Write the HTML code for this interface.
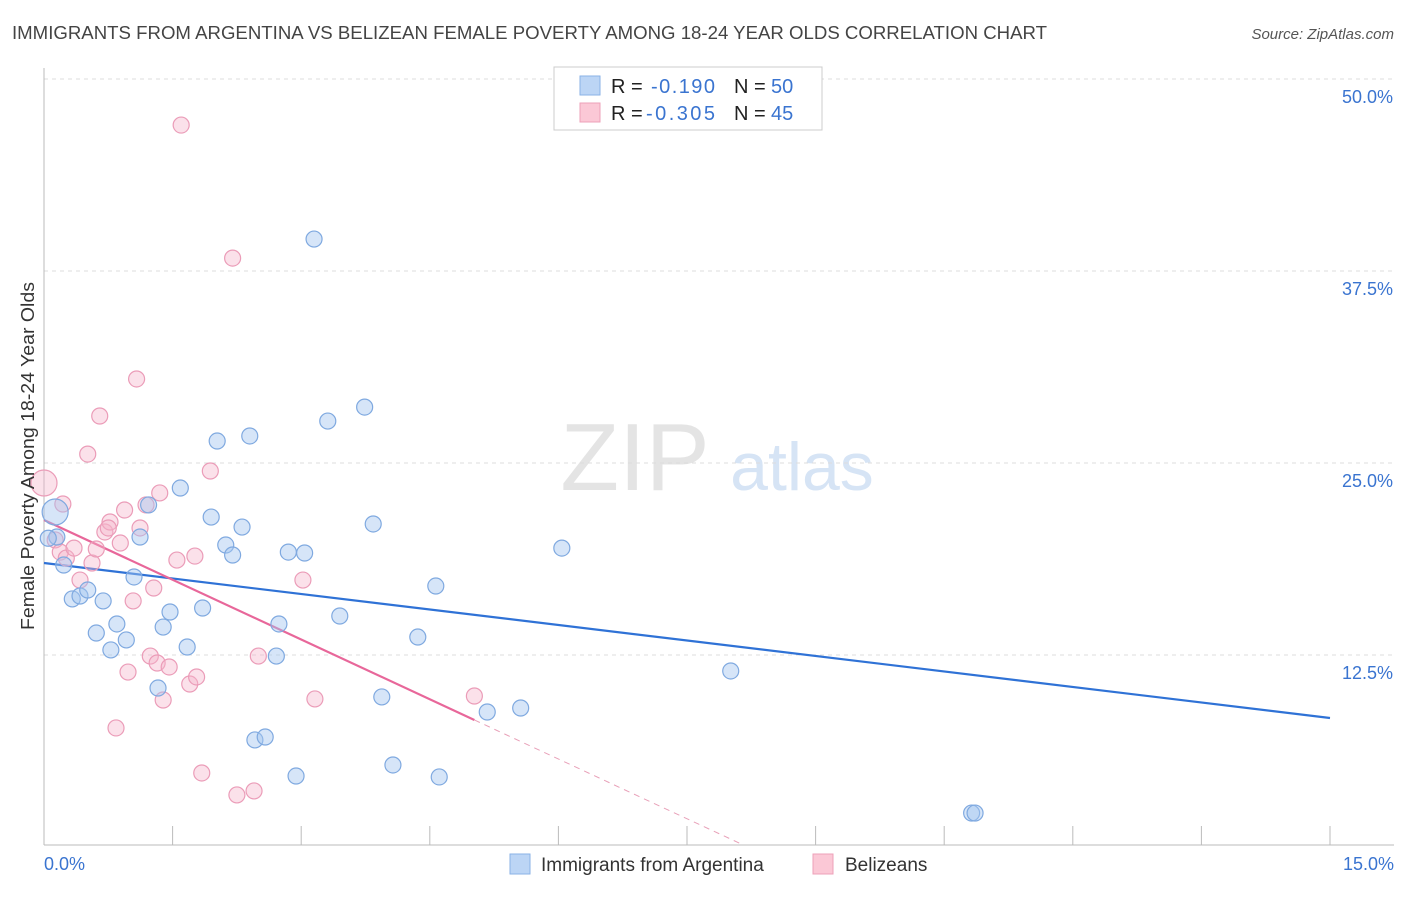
<!DOCTYPE html>
<html><head><meta charset="utf-8">
<style>
body{margin:0;background:#fff;font-family:"Liberation Sans",sans-serif;}
svg text{font-family:"Liberation Sans",sans-serif;}
</style></head>
<body>
<svg id="chart" width="1406" height="892" viewBox="0 0 1406 892" xmlns="http://www.w3.org/2000/svg">
<text x="12" y="39" font-size="18" fill="#444" textLength="1035" lengthAdjust="spacingAndGlyphs">IMMIGRANTS FROM ARGENTINA VS BELIZEAN FEMALE POVERTY AMONG 18-24 YEAR OLDS CORRELATION CHART</text>
<text x="1394" y="39" font-size="15" fill="#555" text-anchor="end" font-style="italic">Source: ZipAtlas.com</text>
<g>
<text x="635" y="490" font-size="96" fill="#e4e4e4" text-anchor="middle" font-family="Liberation Serif, serif">ZIP</text>
<text x="802" y="490" font-size="68" fill="#d6e4f5" text-anchor="middle">atlas</text>
</g>
<g id="grid"></g>
<g id="axes"></g>
<g id="trend"></g>
<g id="pts"></g>
<text transform="translate(34,456) rotate(-90)" font-size="18" fill="#333" text-anchor="middle" textLength="348" lengthAdjust="spacingAndGlyphs">Female Poverty Among 18-24 Year Olds</text>
<g>
<rect x="554" y="67" width="268" height="63" fill="#fff" stroke="#ccc"/>
<rect x="580" y="76" width="20" height="19" fill="#bcd5f5" stroke="#8ab2e6"/>
<rect x="580" y="103" width="20" height="19" fill="#fbc8d6" stroke="#eea0b8"/>
<text x="611" y="93" font-size="20" fill="#222">R =</text><text x="651" y="93" font-size="20" fill="#3a74d0" textLength="64">-0.190</text>
<text x="734" y="93" font-size="20" fill="#222">N =</text><text x="771" y="93" font-size="20" fill="#3a74d0">50</text>
<text x="611" y="120" font-size="20" fill="#222">R =</text><text x="646" y="120" font-size="20" fill="#3a74d0" textLength="69">-0.305</text>
<text x="734" y="120" font-size="20" fill="#222">N =</text><text x="771" y="120" font-size="20" fill="#3a74d0">45</text>
</g>
<g>
<rect x="510" y="854" width="20" height="20" fill="#bcd5f5" stroke="#8ab2e6"/>
<text x="541" y="871" font-size="19" fill="#333">Immigrants from Argentina</text>
<rect x="813" y="854" width="20" height="20" fill="#fbc8d6" stroke="#eea0b8"/>
<text x="845" y="871" font-size="19" fill="#333">Belizeans</text>
</g>
</svg>
<script>
const xTicks=[0,1.5,3,4.5,6,7.5,9,10.5,12,13.5,15];
const yTicks=[12.5,25,37.5,50];
const yTickLabels=["12.5%","25.0%","37.5%","50.0%"];
const blueX=[0.13,0.15,0.23,0.33,0.42,0.51,0.61,0.69,0.78,0.85,0.96,1.05,1.12,1.22,1.33,1.39,1.47,1.59,1.67,1.85,1.95,2.02,2.12,2.20,2.31,2.40,2.46,2.58,2.71,2.74,2.85,2.94,3.04,3.15,3.31,3.45,3.74,3.84,3.94,4.07,4.36,4.57,4.61,5.17,5.56,6.04,8.01,10.82,10.86,0.05];
const blueY=[21.81,20.18,18.36,16.15,16.34,16.73,13.93,16.02,12.83,14.52,13.48,17.58,20.18,22.27,10.35,14.32,15.30,23.37,13.02,15.56,21.48,26.43,19.66,19.01,20.83,26.76,6.97,7.16,12.43,14.52,19.20,4.62,19.14,39.58,27.73,15.04,28.64,21.03,9.77,5.34,13.67,16.99,4.56,8.79,9.05,19.46,11.46,2.21,2.21,20.1];
const pinkX=[0,0.13,0.19,0.26,0.35,0.42,0.51,0.56,0.61,0.65,0.71,0.77,0.84,0.89,0.94,0.98,1.04,1.08,1.12,1.19,1.24,1.28,1.32,1.35,1.39,1.46,1.55,1.60,1.70,1.76,1.78,1.84,1.94,2.20,2.25,2.45,2.50,3.02,3.16,5.02,0.75,0.22];
const pinkY=[23.70,19.99,19.20,18.81,19.46,17.38,25.58,18.49,19.40,28.06,20.51,21.16,7.75,19.79,21.94,11.39,16.02,30.47,20.77,22.27,12.43,16.86,11.98,23.05,9.57,11.72,18.68,47.0,10.61,18.94,11.07,4.82,24.48,38.34,3.39,3.65,12.43,17.38,9.64,9.83,20.77,22.33];
const blueR=[13,8,8,8,8,8,8,8,8,8,8,8,8,8,8,8,8,8,8,8,8,8,8,8,8,8,8,8,8,8,8,8,8,8,8,8,8,8,8,8,8,8,8,8,8,8,8,8,8,8];
const blueTrend=[18.49,8.40];
const pinkTrend=[21.29,8.27,0.23];
const pinkTrendX=[0,5.02,8.12];
const NS="http://www.w3.org/2000/svg";
const X=v=>44+v/15*1286;
const Y=v=>847-v/12.5*192;
function mk(tag,at,parent){const e=document.createElementNS(NS,tag);for(const k in at)e.setAttribute(k,at[k]);parent.appendChild(e);return e;}
const grid=document.getElementById('grid'),axes=document.getElementById('axes'),trend=document.getElementById('trend'),pts=document.getElementById('pts');
yTicks.forEach((t,i)=>{
 const l=mk('line',{x1:44,x2:1394,y1:Y(t),y2:Y(t),stroke:'#ddd','stroke-dasharray':'4,4'},grid);
 
 
 const tx=mk('text',{x:1393,y:Y(t)+24,'font-size':18,fill:'#3a74d0','text-anchor':'end'},axes);
 tx.textContent=yTickLabels[i];
 
 
});
const xa=mk('line',{x1:44,x2:1394,y1:845,y2:845,stroke:'#bbb'},axes);


const ya=mk('line',{x1:44,x2:44,y1:68,y2:845,stroke:'#bbb'},axes);


xTicks.forEach(t=>{
 const l=mk('line',{x1:X(t),x2:X(t),y1:826,y2:845,stroke:'#bbb'},axes);
 
 
});
const xl0=mk('text',{x:44,y:870,'font-size':18,fill:'#3a74d0'},axes);xl0.textContent='0.0%';


const xl1=mk('text',{x:1394,y:870,'font-size':18,fill:'#3a74d0','text-anchor':'end'},axes);xl1.textContent='15.0%';


pinkX.forEach((v,i)=>{
 const c=mk('circle',{cx:X(v),cy:Y(pinkY[i]),r:i===0?13:8,fill:'rgba(246,180,202,0.4)',stroke:'#eb9cb8','stroke-width':1.2},pts);
 
 
});
blueX.forEach((v,i)=>{
 const c=mk('circle',{cx:X(v),cy:Y(blueY[i]),r:blueR[i],fill:'rgba(165,198,240,0.45)',stroke:'#7fa9e0','stroke-width':1.2},pts);
 
 
});
const bt=mk('line',{x1:X(0),y1:Y(blueTrend[0]),x2:X(15),y2:Y(blueTrend[1]),stroke:'#2f72d6','stroke-width':2.2},trend);


const pt=mk('line',{x1:X(pinkTrendX[0]),y1:Y(pinkTrend[0]),x2:X(pinkTrendX[1]),y2:Y(pinkTrend[1]),stroke:'#e8679a','stroke-width':2.2},trend);


const pd=mk('line',{x1:X(pinkTrendX[1]),y1:Y(pinkTrend[1]),x2:X(pinkTrendX[2]),y2:Y(pinkTrend[2]),stroke:'#e8a0b8','stroke-width':1,'stroke-dasharray':'6,5'},trend);


</script>
</body></html>
